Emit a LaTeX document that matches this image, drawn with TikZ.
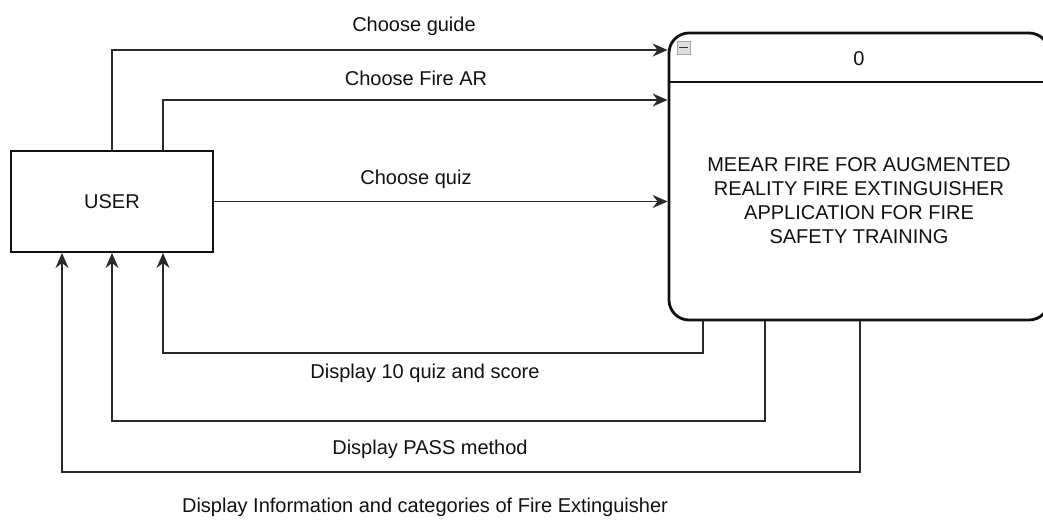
\documentclass[tikz,border=0pt]{standalone}
\usepackage{fontspec}
\setmainfont{Liberation Sans}
\usetikzlibrary{arrows.meta}
\definecolor{ink}{HTML}{111111}
\definecolor{wire}{HTML}{2A2A2A}
\begin{document}
\begin{tikzpicture}[x=1pt,y=-1pt,
  every node/.style={font=\fontsize{20}{24}\selectfont, text=ink},
  userbox/.style={draw=ink, line width=2pt, rectangle, minimum width=202pt, minimum height=101pt, inner sep=0pt},
  sysbox/.style={draw=ink, line width=2.8pt, rectangle, rounded corners=20pt, minimum width=380pt, minimum height=287pt, inner sep=0pt},
  conn/.style={draw=wire, line width=1.7pt, -{Stealth[length=15pt,width=13pt,inset=5pt]}},
  lbl/.style={anchor=base, inner sep=0pt},
  iconbox/.style={draw=gray!70, fill=gray!25, line width=0.8pt, minimum size=13pt, inner sep=0pt}
]
\useasboundingbox (0,0) rectangle (1043,524);

% nodes
\node[userbox] (user) at (112,201.5) {USER};
\node[sysbox] (sys) at (859,176.5) {};
\coordinate (hy) at (0,82);
\draw[draw=ink, line width=2.5pt] (sys.west |- hy) -- (sys.east |- hy);
\node[lbl] (zero) at (859,66) {0};
\node[align=center, inner sep=0pt] (title) at (859,201)
  {MEEAR FIRE FOR AUGMENTED\\REALITY FIRE EXTINGUISHER\\APPLICATION FOR FIRE\\SAFETY TRAINING};
\node[iconbox] (icon) at (683.5,47.5) {};
\draw[draw=gray!40!black, line width=1.8pt] ([xshift=2.5pt]icon.west) -- ([xshift=-2.5pt]icon.east);

% helper coordinates
\coordinate (yg) at (0,50);
\coordinate (yf) at (0,100);
\coordinate (xq) at (703,0);
\coordinate (xp) at (765,0);
\coordinate (xi) at (860,0);
\coordinate (yq) at (0,353);
\coordinate (yp) at (0,421);
\coordinate (yi) at (0,472);
\coordinate (uL) at ([xshift=-50pt]user.south);
\coordinate (uM) at (user.south);
\coordinate (uR) at ([xshift=51pt]user.south);
\coordinate (tR) at ([xshift=51pt]user.north);

% connectors to system
\draw[conn] (user.north) |- (sys.west |- yg);
\draw[conn] (tR) |- (sys.west |- yf);
\draw[conn] (user.east) -- (sys.west |- user.east);

% connectors back to user
\draw[conn] (xq |- sys.south) |- (uR |- yq) -- (uR);
\draw[conn] (xp |- sys.south) |- (uM |- yp) -- (uM);
\draw[conn] (xi |- sys.south) |- (uL |- yi) -- (uL);

% labels
\node[lbl] (l1) at (414,32) {Choose guide};
\node[lbl] (l2) at (416,86) {Choose Fire AR};
\node[lbl] (l3) at (416,184) {Choose quiz};
\node[lbl] (l4) at (425,378) {Display 10 quiz and score};
\node[lbl] (l5) at (430,454) {Display PASS method};
\node[lbl] (l6) at (425,512) {Display Information and categories of Fire Extinguisher};
\end{tikzpicture}
\end{document}
